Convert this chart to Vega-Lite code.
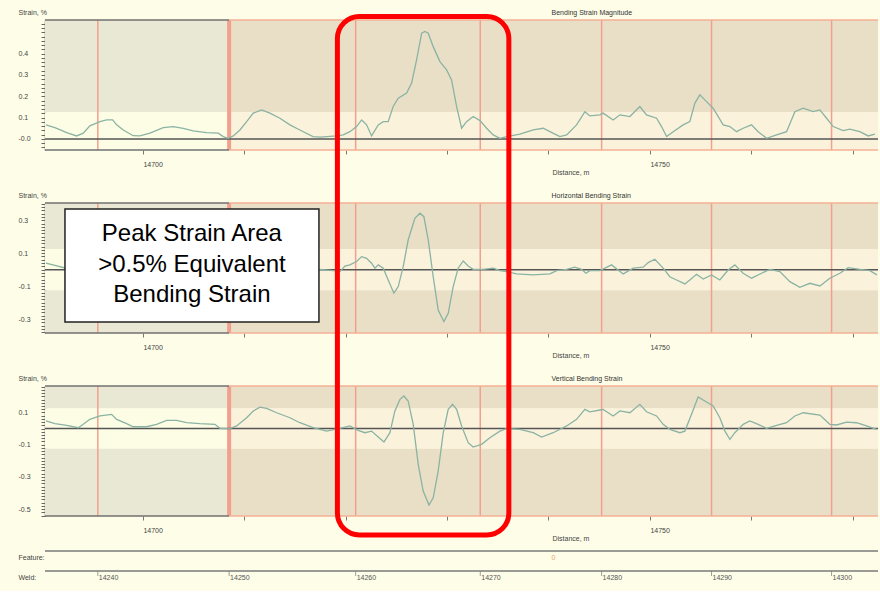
{
  "$schema": "https://vega.github.io/schema/vega-lite/v6.json",
  "padding": {"left": 18, "top": 8, "right": 0, "bottom": 0},
  "background": "#fefee8",
  "config": {
    "view": {"stroke": null},
    "font": "Liberation Sans",
    "axis": {"grid": false, "labelFont": "Liberation Sans", "labelFontSize": 7, "labelColor": "#444", "titleFont": "Liberation Sans", "titleFontSize": 7, "titleFontWeight": "normal", "titleColor": "#444"}
  },
  "datasets": {
    "welds": [
      {"d": 14695.55, "weld": "14240", "row": "Weld"},
      {"d": 14708.5, "weld": "14250", "row": "Weld"},
      {"d": 14720.98, "weld": "14260", "row": "Weld"},
      {"d": 14733.27, "weld": "14270", "row": "Weld"},
      {"d": 14745.24, "weld": "14280", "row": "Weld"},
      {"d": 14756.08, "weld": "14290", "row": "Weld"},
      {"d": 14767.92, "weld": "14300", "row": "Weld"}
    ],
    "p1": [
      {"d":14690.43,"s":0.066},{"d":14691.32,"s":0.053},{"d":14692.48,"s":0.030},{"d":14693.46,"s":0.014},{"d":14694.11,"s":0.027},{"d":14694.77,"s":0.061},{"d":14695.76,"s":0.081},{"d":14696.42,"s":0.089},{"d":14697.01,"s":0.089},{"d":14697.41,"s":0.066},{"d":14698.06,"s":0.042},{"d":14699.04,"s":0.015},{"d":14699.70,"s":0.014},{"d":14700.69,"s":0.027},{"d":14702.00,"s":0.053},{"d":14702.99,"s":0.058},{"d":14703.97,"s":0.050},{"d":14704.96,"s":0.038},{"d":14706.28,"s":0.030},{"d":14707.43,"s":0.027},{"d":14707.92,"s":0.011},{"d":14708.41,"s":0.003},{"d":14708.91,"s":0.014},{"d":14709.57,"s":0.042},{"d":14710.23,"s":0.081},{"d":14710.88,"s":0.121},{"d":14711.71,"s":0.136},{"d":14712.52,"s":0.121},{"d":14713.51,"s":0.097},{"d":14714.50,"s":0.066},{"d":14715.48,"s":0.042},{"d":14716.77,"s":0.011},{"d":14717.46,"s":0.008},{"d":14719.10,"s":0.014},{"d":14719.75,"s":0.019},{"d":14720.41,"s":0.034},{"d":14721.07,"s":0.058},{"d":14721.57,"s":0.089},{"d":14722.06,"s":0.066},{"d":14722.55,"s":0.014},{"d":14723.21,"s":0.066},{"d":14723.70,"s":0.081},{"d":14724.19,"s":0.081},{"d":14724.68,"s":0.152},{"d":14725.18,"s":0.191},{"d":14726.01,"s":0.215},{"d":14726.50,"s":0.262},{"d":14726.99,"s":0.371},{"d":14727.49,"s":0.496},{"d":14727.81,"s":0.504},{"d":14728.14,"s":0.496},{"d":14728.63,"s":0.433},{"d":14729.29,"s":0.363},{"d":14729.95,"s":0.324},{"d":14730.44,"s":0.277},{"d":14730.94,"s":0.152},{"d":14731.43,"s":0.050},{"d":14731.92,"s":0.081},{"d":14732.57,"s":0.105},{"d":14733.24,"s":0.086},{"d":14733.90,"s":0.050},{"d":14734.55,"s":0.019},{"d":14735.21,"s":0.003},{"d":14735.87,"s":0.011},{"d":14737.18,"s":0.023},{"d":14738.49,"s":0.042},{"d":14739.48,"s":0.050},{"d":14740.14,"s":0.034},{"d":14741.12,"s":0.011},{"d":14741.79,"s":0.019},{"d":14742.77,"s":0.066},{"d":14743.59,"s":0.128},{"d":14744.08,"s":0.108},{"d":14745.07,"s":0.113},{"d":14745.39,"s":0.121},{"d":14746.38,"s":0.089},{"d":14747.04,"s":0.113},{"d":14748.03,"s":0.105},{"d":14749.01,"s":0.152},{"d":14749.67,"s":0.113},{"d":14750.66,"s":0.097},{"d":14751.15,"s":0.058},{"d":14751.65,"s":0.011},{"d":14752.30,"s":0.034},{"d":14753.28,"s":0.066},{"d":14753.94,"s":0.081},{"d":14754.44,"s":0.168},{"d":14754.93,"s":0.207},{"d":14755.59,"s":0.175},{"d":14756.24,"s":0.144},{"d":14757.23,"s":0.066},{"d":14757.89,"s":0.058},{"d":14758.55,"s":0.034},{"d":14759.20,"s":0.050},{"d":14760.03,"s":0.066},{"d":14760.68,"s":0.034},{"d":14761.51,"s":0.003},{"d":14762.50,"s":0.019},{"d":14763.48,"s":0.034},{"d":14764.30,"s":0.128},{"d":14765.12,"s":0.144},{"d":14766.10,"s":0.128},{"d":14766.77,"s":0.136},{"d":14767.43,"s":0.097},{"d":14768.08,"s":0.058},{"d":14769.06,"s":0.039},{"d":14769.72,"s":0.046},{"d":14770.71,"s":0.034},{"d":14771.53,"s":0.014},{"d":14772.19,"s":0.023}
    ],
    "p2": [
      {"d":14690.43,"s":0.039},{"d":14691.32,"s":0.026},{"d":14692.31,"s":0.010},{"d":14695.76,"s":0.010},{"d":14700.69,"s":0.016},{"d":14705.62,"s":0.004},{"d":14710.55,"s":0.010},{"d":14715.48,"s":-0.002},{"d":14717.46,"s":0.002},{"d":14718.77,"s":-0.006},{"d":14719.43,"s":-0.012},{"d":14719.92,"s":0.022},{"d":14720.41,"s":0.029},{"d":14721.07,"s":0.049},{"d":14721.57,"s":0.079},{"d":14722.06,"s":0.069},{"d":14722.55,"s":0.039},{"d":14722.88,"s":0.009},{"d":14723.21,"s":0.029},{"d":14723.70,"s":0.009},{"d":14724.19,"s":-0.063},{"d":14724.75,"s":-0.143},{"d":14725.18,"s":-0.103},{"d":14725.67,"s":0.018},{"d":14726.16,"s":0.180},{"d":14726.82,"s":0.312},{"d":14727.32,"s":0.343},{"d":14727.71,"s":0.322},{"d":14728.14,"s":0.180},{"d":14728.63,"s":-0.043},{"d":14729.12,"s":-0.245},{"d":14729.68,"s":-0.316},{"d":14730.11,"s":-0.265},{"d":14730.60,"s":-0.103},{"d":14731.09,"s":0.009},{"d":14731.59,"s":0.053},{"d":14732.08,"s":0.022},{"d":14732.57,"s":0.002},{"d":14733.56,"s":0.002},{"d":14734.55,"s":0.009},{"d":14735.21,"s":-0.006},{"d":14735.87,"s":-0.012},{"d":14736.85,"s":-0.026},{"d":14738.49,"s":-0.032},{"d":14740.14,"s":-0.026},{"d":14740.80,"s":-0.006},{"d":14741.79,"s":0.002},{"d":14742.60,"s":0.015},{"d":14743.26,"s":0.002},{"d":14743.69,"s":-0.022},{"d":14744.08,"s":-0.006},{"d":14745.07,"s":-0.006},{"d":14746.22,"s":0.029},{"d":14747.37,"s":-0.026},{"d":14748.35,"s":0.009},{"d":14749.34,"s":0.015},{"d":14749.83,"s":0.043},{"d":14750.49,"s":0.063},{"d":14751.31,"s":0.009},{"d":14751.97,"s":-0.043},{"d":14752.63,"s":-0.063},{"d":14753.45,"s":-0.087},{"d":14753.94,"s":-0.063},{"d":14754.60,"s":-0.028},{"d":14755.26,"s":-0.057},{"d":14756.08,"s":-0.032},{"d":14756.90,"s":-0.063},{"d":14757.72,"s":-0.002},{"d":14758.38,"s":0.029},{"d":14759.20,"s":-0.022},{"d":14760.03,"s":-0.052},{"d":14761.02,"s":-0.022},{"d":14761.83,"s":0.002},{"d":14762.82,"s":-0.012},{"d":14763.81,"s":-0.073},{"d":14764.79,"s":-0.107},{"d":14765.78,"s":-0.083},{"d":14766.77,"s":-0.099},{"d":14767.75,"s":-0.052},{"d":14768.74,"s":-0.022},{"d":14769.56,"s":0.012},{"d":14770.71,"s":0.002},{"d":14771.70,"s":-0.006},{"d":14772.39,"s":-0.032}
    ],
    "p3": [
      {"d":14690.43,"s":0.047},{"d":14691.32,"s":0.030},{"d":14692.48,"s":0.020},{"d":14693.62,"s":0.005},{"d":14694.11,"s":0.026},{"d":14694.77,"s":0.057},{"d":14695.76,"s":0.078},{"d":14696.91,"s":0.088},{"d":14697.41,"s":0.057},{"d":14698.39,"s":0.030},{"d":14699.04,"s":0.011},{"d":14700.36,"s":0.011},{"d":14701.35,"s":0.026},{"d":14702.34,"s":0.051},{"d":14703.32,"s":0.051},{"d":14704.31,"s":0.036},{"d":14705.62,"s":0.030},{"d":14707.10,"s":0.026},{"d":14707.59,"s":0.001},{"d":14708.58,"s":-0.001},{"d":14709.24,"s":0.016},{"d":14710.23,"s":0.067},{"d":14710.88,"s":0.109},{"d":14711.54,"s":0.133},{"d":14712.20,"s":0.125},{"d":14713.19,"s":0.098},{"d":14714.50,"s":0.067},{"d":14715.48,"s":0.036},{"d":14716.79,"s":0.005},{"d":14718.12,"s":-0.016},{"d":14719.43,"s":0.001},{"d":14720.41,"s":0.016},{"d":14721.23,"s":-0.011},{"d":14721.89,"s":-0.026},{"d":14722.55,"s":-0.016},{"d":14723.21,"s":-0.053},{"d":14723.77,"s":-0.084},{"d":14724.36,"s":-0.026},{"d":14724.85,"s":0.109},{"d":14725.35,"s":0.181},{"d":14725.74,"s":0.202},{"d":14726.16,"s":0.171},{"d":14726.66,"s":0.026},{"d":14727.15,"s":-0.222},{"d":14727.64,"s":-0.388},{"d":14728.21,"s":-0.475},{"d":14728.63,"s":-0.430},{"d":14729.12,"s":-0.264},{"d":14729.62,"s":-0.026},{"d":14730.11,"s":0.119},{"d":14730.54,"s":0.150},{"d":14730.94,"s":0.119},{"d":14731.43,"s":0.016},{"d":14732.08,"s":-0.088},{"d":14732.57,"s":-0.115},{"d":14733.40,"s":-0.098},{"d":14734.22,"s":-0.057},{"d":14735.21,"s":-0.016},{"d":14735.87,"s":-0.001},{"d":14737.18,"s":-0.005},{"d":14738.49,"s":-0.026},{"d":14739.32,"s":-0.053},{"d":14740.46,"s":-0.026},{"d":14741.79,"s":0.016},{"d":14742.77,"s":0.057},{"d":14743.59,"s":0.119},{"d":14744.08,"s":0.104},{"d":14745.07,"s":0.115},{"d":14745.39,"s":0.119},{"d":14746.38,"s":0.078},{"d":14747.04,"s":0.109},{"d":14748.03,"s":0.098},{"d":14749.01,"s":0.150},{"d":14749.67,"s":0.104},{"d":14750.66,"s":0.078},{"d":14751.31,"s":0.026},{"d":14751.97,"s":-0.005},{"d":14752.96,"s":-0.026},{"d":14753.45,"s":-0.016},{"d":14754.11,"s":0.088},{"d":14754.76,"s":0.196},{"d":14755.42,"s":0.171},{"d":14756.24,"s":0.140},{"d":14756.90,"s":0.067},{"d":14757.40,"s":-0.016},{"d":14757.89,"s":-0.067},{"d":14758.38,"s":-0.026},{"d":14759.20,"s":0.026},{"d":14759.86,"s":0.047},{"d":14760.68,"s":0.026},{"d":14761.51,"s":0.001},{"d":14762.50,"s":0.020},{"d":14763.48,"s":0.036},{"d":14764.30,"s":0.078},{"d":14765.12,"s":0.098},{"d":14766.77,"s":0.084},{"d":14767.75,"s":0.026},{"d":14768.41,"s":0.022},{"d":14769.40,"s":0.040},{"d":14770.38,"s":0.036},{"d":14771.37,"s":0.016},{"d":14772.36,"s":-0.005}
    ]
  },
  "vconcat": [
    {
      "width": 833, "height": 130,
      "layer": [
        {
          "data": {"values": [
            {"x1": 14690.34, "x2": 14708.5, "lo": 0.125, "hi": 0.558, "zone": "A dark"},
            {"x1": 14690.34, "x2": 14708.5, "lo": -0.052, "hi": 0.125, "zone": "A light"},
            {"x1": 14708.5, "x2": 14772.5, "lo": 0.125, "hi": 0.558, "zone": "B dark"},
            {"x1": 14708.5, "x2": 14772.5, "lo": -0.052, "hi": 0.125, "zone": "B light"}
          ]},
          "mark": {"type": "rect"},
          "encoding": {
            "x": {"field": "x1", "type": "quantitative", "scale": {"domain": [14690.34, 14772.5], "nice": false, "zero": false},
              "axis": {"values": [14700, 14710, 14720, 14730, 14740, 14750, 14760, 14770], "tickCount": 50, "labelExpr": "(datum.value == 14700 || datum.value == 14750) ? '' + datum.value : ''", "title": "Distance, m", "titleX": 507, "titleY": 22, "titleAlign": "left", "titleBaseline": "middle", "titleAnchor": "start", "domain": false, "tickColor": "#777", "tickSize": 4, "labelPadding": 6, "labelAlign": "left", "labelFlush": false, "labelOverlap": false}},
            "x2": {"field": "x2"},
            "y": {"field": "lo", "type": "quantitative", "scale": {"domain": [-0.052, 0.558], "nice": false, "zero": false},
              "axis": {"values": [-0.04,-0.02,0,0.02,0.04,0.06,0.08,0.1,0.12,0.14,0.16,0.18,0.2,0.22,0.24,0.26,0.28,0.3,0.32,0.34,0.36,0.38,0.4,0.42,0.44,0.46,0.48,0.5,0.52,0.54], "tickCount": 200, "labelExpr": "abs(datum.value*10 - round(datum.value*10)) < 0.001 && datum.value < 0.45 ? (abs(datum.value) < 0.001 ? '-0.0' : format(datum.value, '.1f')) : ''", "title": "Strain, %", "titleAngle": 0, "titleAlign": "left", "titleBaseline": "middle", "titleX": -27, "titleY": -8, "labelAlign": "left", "labelBaseline": "middle", "labelPadding": 23, "tickSize": 4, "tickColor": "#666", "domainColor": "#666", "domainWidth": 1.5, "labelOverlap": false}},
            "y2": {"field": "hi"},
            "fill": {"field": "zone", "type": "nominal", "scale": {"domain": ["A dark", "A light", "B dark", "B light"], "range": ["#e9e8d4", "#fdfde6", "#e9dfc6", "#fbf2dc"]}, "legend": null}
          }
        },
        {
          "data": {"name": "welds"},
          "mark": {"type": "rule", "color": "#f2a08e"},
          "encoding": {"x": {"field": "d", "type": "quantitative"}, "strokeWidth": {"condition": {"test": "datum.weld == '14250'", "value": 4}, "value": 1.5}}
        },
        {
          "data": {"values": [
            {"x1": 14690.34, "x2": 14708.5, "y": 0.558, "seg": "A"},
            {"x1": 14708.5, "x2": 14772.5, "y": 0.558, "seg": "B"},
            {"x1": 14690.34, "x2": 14708.5, "y": -0.052, "seg": "A"},
            {"x1": 14708.5, "x2": 14772.5, "y": -0.052, "seg": "B"}
          ]},
          "mark": {"type": "rule", "strokeWidth": 1.5},
          "encoding": {"x": {"field": "x1", "type": "quantitative"}, "x2": {"field": "x2"}, "y": {"field": "y", "type": "quantitative"}, "stroke": {"field": "seg", "type": "nominal", "scale": {"domain": ["A", "B"], "range": ["#707070", "#f4b196"]}, "legend": null}}
        },
        {
          "data": {"values": [{"v": 0}]},
          "mark": {"type": "rule", "color": "#555", "strokeWidth": 1.5},
          "encoding": {"y": {"field": "v", "type": "quantitative"}}
        },
        {
          "data": {"name": "p1"},
          "mark": {"type": "line", "color": "#8ab3a3", "strokeWidth": 1.3},
          "encoding": {"x": {"field": "d", "type": "quantitative"}, "y": {"field": "s", "type": "quantitative"}}
        },
        {
          "data": {"values": [{"d": 14740.3, "s": 0.558, "t": "Bending Strain Magnitude"}]},
          "mark": {"type": "text", "align": "left", "baseline": "bottom", "dy": -4, "fontSize": 7, "color": "#333"},
          "encoding": {"x": {"field": "d", "type": "quantitative"}, "y": {"field": "s", "type": "quantitative"}, "text": {"field": "t"}}
        }
      ]
    },
    {
      "width": 833, "height": 130,
      "layer": [
        {
          "data": {"values": [
            {"x1": 14690.34, "x2": 14708.5, "lo": 0.125, "hi": 0.405, "zone": "A dark"},
            {"x1": 14690.34, "x2": 14708.5, "lo": -0.125, "hi": 0.125, "zone": "A light"},
            {"x1": 14690.34, "x2": 14708.5, "lo": -0.385, "hi": -0.125, "zone": "A dark"},
            {"x1": 14708.5, "x2": 14772.5, "lo": 0.125, "hi": 0.405, "zone": "B dark"},
            {"x1": 14708.5, "x2": 14772.5, "lo": -0.125, "hi": 0.125, "zone": "B light"},
            {"x1": 14708.5, "x2": 14772.5, "lo": -0.385, "hi": -0.125, "zone": "B dark"}
          ]},
          "mark": {"type": "rect"},
          "encoding": {
            "x": {"field": "x1", "type": "quantitative", "scale": {"domain": [14690.34, 14772.5], "nice": false, "zero": false},
              "axis": {"values": [14700, 14710, 14720, 14730, 14740, 14750, 14760, 14770], "tickCount": 50, "labelExpr": "(datum.value == 14700 || datum.value == 14750) ? '' + datum.value : ''", "title": "Distance, m", "titleX": 507, "titleY": 22, "titleAlign": "left", "titleBaseline": "middle", "titleAnchor": "start", "domain": false, "tickColor": "#777", "tickSize": 4, "labelPadding": 6, "labelAlign": "left", "labelFlush": false, "labelOverlap": false}},
            "x2": {"field": "x2"},
            "y": {"field": "lo", "type": "quantitative", "scale": {"domain": [-0.385, 0.405], "nice": false, "zero": false},
              "axis": {"values": [-0.38,-0.36,-0.34,-0.32,-0.3,-0.28,-0.26,-0.24,-0.22,-0.2,-0.18,-0.16,-0.14,-0.12,-0.1,-0.08,-0.06,-0.04,-0.02,0,0.02,0.04,0.06,0.08,0.1,0.12,0.14,0.16,0.18,0.2,0.22,0.24,0.26,0.28,0.3,0.32,0.34,0.36,0.38,0.4], "tickCount": 200, "labelExpr": "abs(datum.value*10 - round(datum.value*10)) < 0.001 && abs(round(datum.value*10)) % 2 == 1 ? (datum.value < 0 ? '-' : '') + format(abs(datum.value), '.1f') : ''", "title": "Strain, %", "titleAngle": 0, "titleAlign": "left", "titleBaseline": "middle", "titleX": -27, "titleY": -8, "labelAlign": "left", "labelBaseline": "middle", "labelPadding": 23, "tickSize": 4, "tickColor": "#666", "domainColor": "#666", "domainWidth": 1.5, "labelOverlap": false}},
            "y2": {"field": "hi"},
            "fill": {"field": "zone", "type": "nominal", "scale": {"domain": ["A dark", "A light", "B dark", "B light"], "range": ["#e9e8d4", "#fdfde6", "#e9dfc6", "#fbf2dc"]}, "legend": null}
          }
        },
        {
          "data": {"name": "welds"},
          "mark": {"type": "rule", "color": "#f2a08e"},
          "encoding": {"x": {"field": "d", "type": "quantitative"}, "strokeWidth": {"condition": {"test": "datum.weld == '14250'", "value": 4}, "value": 1.5}}
        },
        {
          "data": {"values": [
            {"x1": 14690.34, "x2": 14708.5, "y": 0.405, "seg": "A"},
            {"x1": 14708.5, "x2": 14772.5, "y": 0.405, "seg": "B"},
            {"x1": 14690.34, "x2": 14708.5, "y": -0.385, "seg": "A"},
            {"x1": 14708.5, "x2": 14772.5, "y": -0.385, "seg": "B"}
          ]},
          "mark": {"type": "rule", "strokeWidth": 1.5},
          "encoding": {"x": {"field": "x1", "type": "quantitative"}, "x2": {"field": "x2"}, "y": {"field": "y", "type": "quantitative"}, "stroke": {"field": "seg", "type": "nominal", "scale": {"domain": ["A", "B"], "range": ["#707070", "#f4b196"]}, "legend": null}}
        },
        {
          "data": {"values": [{"v": 0}]},
          "mark": {"type": "rule", "color": "#555", "strokeWidth": 1.5},
          "encoding": {"y": {"field": "v", "type": "quantitative"}}
        },
        {
          "data": {"name": "p2"},
          "mark": {"type": "line", "color": "#8ab3a3", "strokeWidth": 1.3},
          "encoding": {"x": {"field": "d", "type": "quantitative"}, "y": {"field": "s", "type": "quantitative"}}
        },
        {
          "data": {"values": [{"x1": 14692.31, "x2": 14717.36, "lo": -0.318, "hi": 0.369}]},
          "mark": {"type": "rect", "fill": "#ffffff", "stroke": "#222222", "strokeWidth": 1.5},
          "encoding": {"x": {"field": "x1", "type": "quantitative"}, "x2": {"field": "x2"}, "y": {"field": "lo", "type": "quantitative"}, "y2": {"field": "hi"}}
        },
        {
          "data": {"values": [
            {"d": 14704.83, "s": 0.174, "t": "Peak Strain Area"},
            {"d": 14704.83, "s": -0.012, "t": ">0.5% Equivalent"},
            {"d": 14704.83, "s": -0.194, "t": "Bending Strain"}
          ]},
          "mark": {"type": "text", "font": "Liberation Sans", "fontSize": 24, "color": "#000000", "align": "center", "baseline": "alphabetic"},
          "encoding": {"x": {"field": "d", "type": "quantitative"}, "y": {"field": "s", "type": "quantitative"}, "text": {"field": "t"}}
        },
        {
          "data": {"values": [{"d": 14740.3, "s": 0.405, "t": "Horizontal Bending Strain"}]},
          "mark": {"type": "text", "align": "left", "baseline": "bottom", "dy": -4, "fontSize": 7, "color": "#333"},
          "encoding": {"x": {"field": "d", "type": "quantitative"}, "y": {"field": "s", "type": "quantitative"}, "text": {"field": "t"}}
        }
      ]
    },
    {
      "spacing": 35,
      "bounds": "flush",
      "vconcat": [
        {
          "width": 833, "height": 130,
          "layer": [
            {
              "data": {"values": [
                {"x1": 14690.34, "x2": 14708.5, "lo": 0.125, "hi": 0.264, "zone": "A dark"},
                {"x1": 14690.34, "x2": 14708.5, "lo": -0.125, "hi": 0.125, "zone": "A light"},
                {"x1": 14690.34, "x2": 14708.5, "lo": -0.543, "hi": -0.125, "zone": "A dark"},
                {"x1": 14708.5, "x2": 14772.5, "lo": 0.125, "hi": 0.264, "zone": "B dark"},
                {"x1": 14708.5, "x2": 14772.5, "lo": -0.125, "hi": 0.125, "zone": "B light"},
                {"x1": 14708.5, "x2": 14772.5, "lo": -0.543, "hi": -0.125, "zone": "B dark"}
              ]},
              "mark": {"type": "rect"},
              "encoding": {
                "x": {"field": "x1", "type": "quantitative", "scale": {"domain": [14690.34, 14772.5], "nice": false, "zero": false},
                  "axis": {"values": [14700, 14710, 14720, 14730, 14740, 14750, 14760, 14770], "tickCount": 50, "labelExpr": "(datum.value == 14700 || datum.value == 14750) ? '' + datum.value : ''", "title": "Distance, m", "titleX": 507, "titleY": 22, "titleAlign": "left", "titleBaseline": "middle", "titleAnchor": "start", "domain": false, "tickColor": "#777", "tickSize": 4, "labelPadding": 6, "labelAlign": "left", "labelFlush": false, "labelOverlap": false}},
                "x2": {"field": "x2"},
                "y": {"field": "lo", "type": "quantitative", "scale": {"domain": [-0.543, 0.264], "nice": false, "zero": false},
                  "axis": {"values": [-0.54,-0.52,-0.5,-0.48,-0.46,-0.44,-0.42,-0.4,-0.38,-0.36,-0.34,-0.32,-0.3,-0.28,-0.26,-0.24,-0.22,-0.2,-0.18,-0.16,-0.14,-0.12,-0.1,-0.08,-0.06,-0.04,-0.02,0,0.02,0.04,0.06,0.08,0.1,0.12,0.14,0.16,0.18,0.2,0.22,0.24,0.26], "tickCount": 200, "labelExpr": "abs(datum.value*10 - round(datum.value*10)) < 0.001 && abs(round(datum.value*10)) % 2 == 1 ? (datum.value < 0 ? '-' : '') + format(abs(datum.value), '.1f') : ''", "title": "Strain, %", "titleAngle": 0, "titleAlign": "left", "titleBaseline": "middle", "titleX": -27, "titleY": -8, "labelAlign": "left", "labelBaseline": "middle", "labelPadding": 23, "tickSize": 4, "tickColor": "#666", "domainColor": "#666", "domainWidth": 1.5, "labelOverlap": false}},
                "y2": {"field": "hi"},
                "fill": {"field": "zone", "type": "nominal", "scale": {"domain": ["A dark", "A light", "B dark", "B light"], "range": ["#e9e8d4", "#fdfde6", "#e9dfc6", "#fbf2dc"]}, "legend": null}
              }
            },
            {
              "data": {"name": "welds"},
              "mark": {"type": "rule", "color": "#f2a08e"},
              "encoding": {"x": {"field": "d", "type": "quantitative"}, "strokeWidth": {"condition": {"test": "datum.weld == '14250'", "value": 4}, "value": 1.5}}
            },
            {
              "data": {"values": [
                {"x1": 14690.34, "x2": 14708.5, "y": 0.264, "seg": "A"},
                {"x1": 14708.5, "x2": 14772.5, "y": 0.264, "seg": "B"},
                {"x1": 14690.34, "x2": 14708.5, "y": -0.543, "seg": "A"},
                {"x1": 14708.5, "x2": 14772.5, "y": -0.543, "seg": "B"}
              ]},
              "mark": {"type": "rule", "strokeWidth": 1.5},
              "encoding": {"x": {"field": "x1", "type": "quantitative"}, "x2": {"field": "x2"}, "y": {"field": "y", "type": "quantitative"}, "stroke": {"field": "seg", "type": "nominal", "scale": {"domain": ["A", "B"], "range": ["#707070", "#f4b196"]}, "legend": null}}
            },
            {
              "data": {"values": [{"v": 0}]},
              "mark": {"type": "rule", "color": "#555", "strokeWidth": 1.5},
              "encoding": {"y": {"field": "v", "type": "quantitative"}}
            },
            {
              "data": {"name": "p3"},
              "mark": {"type": "line", "color": "#8ab3a3", "strokeWidth": 1.3},
              "encoding": {"x": {"field": "d", "type": "quantitative"}, "y": {"field": "s", "type": "quantitative"}}
            },
            {
              "data": {"values": [{"d": 14740.3, "s": 0.264, "t": "Vertical Bending Strain"}]},
              "mark": {"type": "text", "align": "left", "baseline": "bottom", "dy": -4, "fontSize": 7, "color": "#333"},
              "encoding": {"x": {"field": "d", "type": "quantitative"}, "y": {"field": "s", "type": "quantitative"}, "text": {"field": "t"}}
            },
            {
              "data": {"values": [{"x1": 14719.18, "x2": 14736.09, "lo": -0.661, "hi": 2.557}]},
              "mark": {"type": "rect", "filled": false, "color": "#ff0000", "strokeWidth": 5, "cornerRadius": 22},
              "encoding": {"x": {"field": "x1", "type": "quantitative"}, "x2": {"field": "x2"}, "y": {"field": "lo", "type": "quantitative"}, "y2": {"field": "hi"}}
            }
          ]
        },
        {
          "width": 833, "height": 40,
          "layer": [
            {
              "data": {"values": [{"row": "Feature"}, {"row": "Weld"}]},
              "mark": {"type": "rule", "color": "#7a7a7a", "strokeWidth": 1.5},
              "encoding": {"y": {"field": "row", "type": "nominal", "bandPosition": 0, "scale": {"domain": ["Feature", "Weld"], "paddingInner": 0, "paddingOuter": 0},
                "axis": {"title": null, "labelExpr": "datum.value + ':'", "labelAlign": "left", "labelBaseline": "middle", "labelPadding": 27, "ticks": false, "domain": false, "labelOffset": -3}}}
            },
            {
              "data": {"name": "welds"},
              "mark": {"type": "tick", "color": "#777", "size": 5, "thickness": 1, "yOffset": -7.5},
              "encoding": {"x": {"field": "d", "type": "quantitative", "scale": {"domain": [14690.34, 14772.5], "nice": false, "zero": false}, "axis": null}, "y": {"field": "row", "type": "nominal"}}
            },
            {
              "data": {"name": "welds"},
              "mark": {"type": "text", "align": "left", "baseline": "middle", "dx": 1, "dy": -3, "fontSize": 7, "color": "#555"},
              "encoding": {"x": {"field": "d", "type": "quantitative"}, "y": {"field": "row", "type": "nominal"}, "text": {"field": "weld"}}
            },
            {
              "data": {"values": [{"d": 14740.3, "row": "Feature", "label": "0"}]},
              "mark": {"type": "text", "align": "left", "baseline": "middle", "dy": -3, "fontSize": 7, "color": "#f0a070"},
              "encoding": {"x": {"field": "d", "type": "quantitative"}, "y": {"field": "row", "type": "nominal"}, "text": {"field": "label"}}
            }
          ]
        }
      ]
    }
  ],
  "spacing": 53,
  "bounds": "flush"
}
